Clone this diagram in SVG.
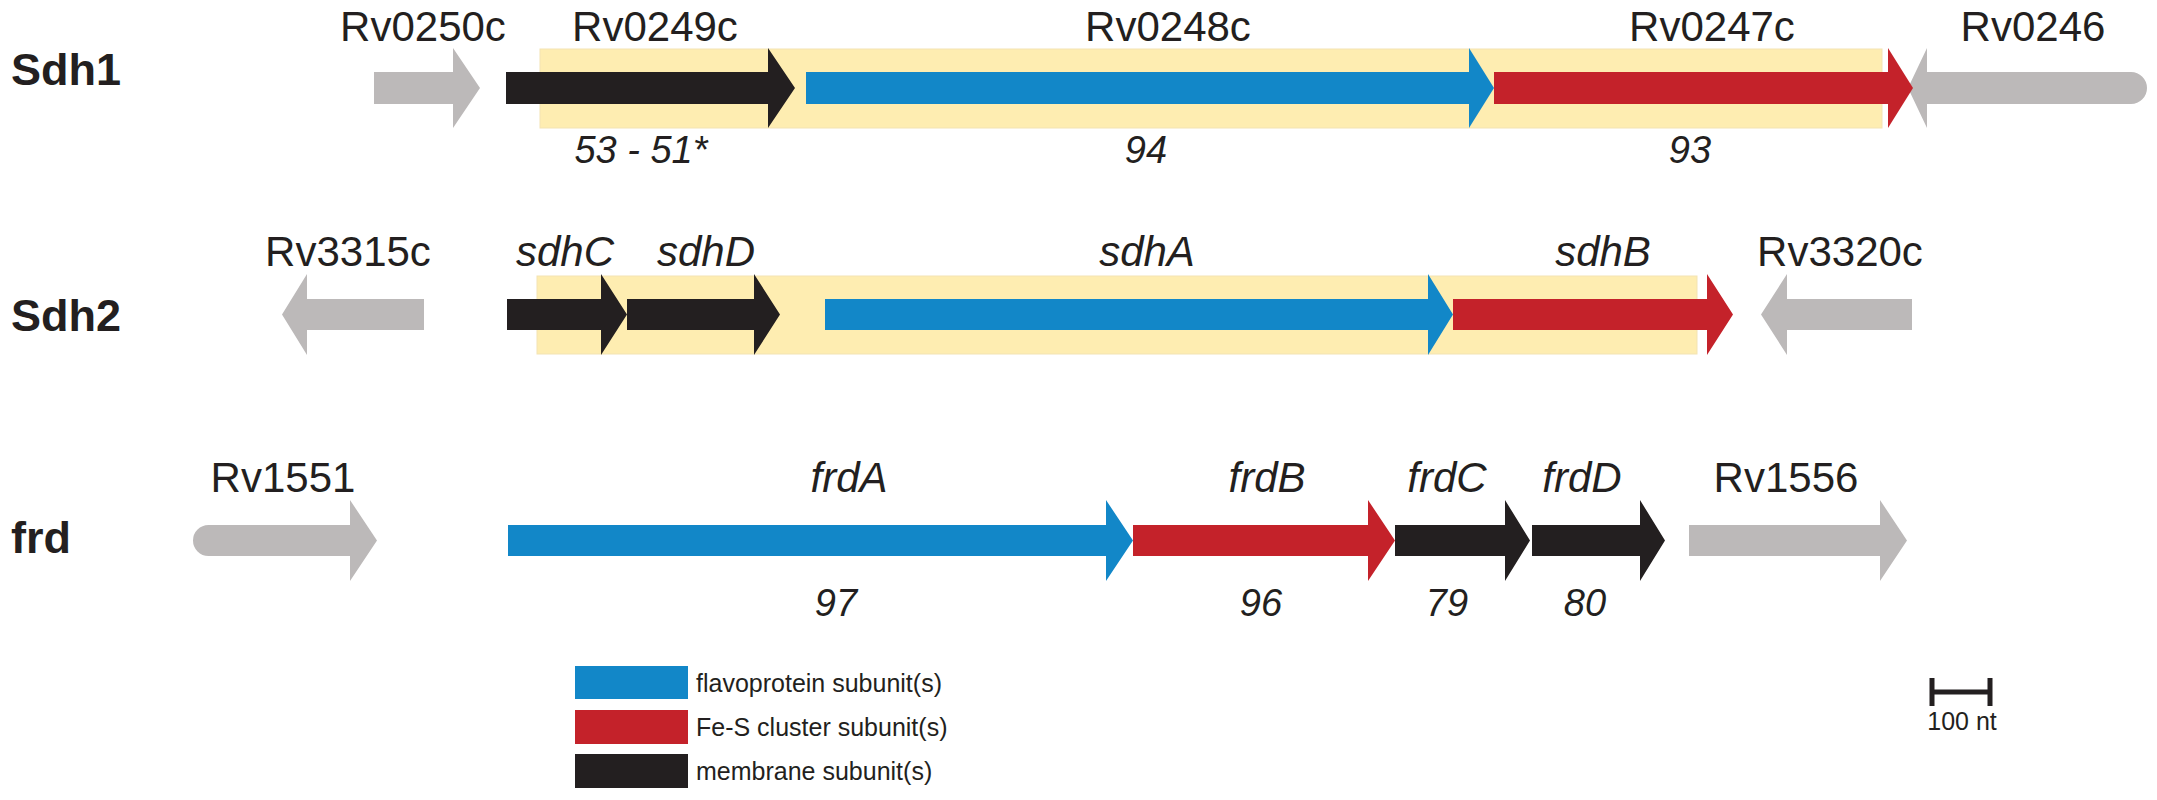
<svg xmlns="http://www.w3.org/2000/svg" width="2157" height="800" viewBox="0 0 2157 800">
<style>
.gray{fill:#bcb9b9}
.black{fill:#231f20}
.blue{fill:#1287c8}
.red{fill:#c4222a}
.yel{fill:#feedb1;stroke:#f3e3b3;stroke-width:1}
text{font-family:'Liberation Sans',Arial,Helvetica,sans-serif;fill:#231f20}
.lbl{font-size:42px;text-anchor:middle}
.it{font-style:italic}
.num{font-size:38px;font-style:italic;text-anchor:middle}
.row{font-size:45px;font-weight:bold}
.leg{font-size:25px}
</style>
<rect width="2157" height="800" fill="#ffffff"/>

<g id="row-labels">
<text class="row" x="11" y="85">Sdh1</text>
<text class="row" x="11" y="331">Sdh2</text>
<text class="row" x="11" y="553">frd</text>
</g>

<g id="operon-boxes">
<rect class="yel" x="540" y="49" width="1342" height="79"/>
<rect class="yel" x="537" y="276" width="1160" height="78"/>
</g>

<g id="Rv0250c"><path class="gray" d="M374,72 H453 V48 L480,88 L453,128 V104 H374 Z"/><text class="lbl" x="423" y="41">Rv0250c</text></g>
<g id="Rv0246"><path class="gray" d="M1908,88 L1927,48 V72 H2131 A16,16 0 0 1 2131,104 H1927 V128 Z"/><text class="lbl" x="2033" y="41">Rv0246</text></g>
<g id="Rv0249c"><path class="black" d="M506,72 H768 V48 L795,88 L768,128 V104 H506 Z"/><text class="lbl" x="655" y="41">Rv0249c</text><text class="num" x="641" y="163">53 - 51*</text></g>
<g id="Rv0248c"><path class="blue" d="M806,72 H1469 V48 L1494,88 L1469,128 V104 H806 Z"/><text class="lbl" x="1168" y="41">Rv0248c</text><text class="num" x="1146" y="163">94</text></g>
<g id="Rv0247c"><path class="red" d="M1494,72 H1888 V48 L1913,88 L1888,128 V104 H1494 Z"/><text class="lbl" x="1712" y="41">Rv0247c</text><text class="num" x="1690" y="163">93</text></g>

<g id="Rv3315c"><path class="gray" d="M424,299 H307 V274 L282,314.5 L307,355 V330 H424 Z"/><text class="lbl" x="348" y="266">Rv3315c</text></g>
<g id="sdhC"><path class="black" d="M507,299 H601 V274 L627,314.5 L601,355 V330 H507 Z"/><text class="lbl it" x="565" y="266">sdhC</text></g>
<g id="sdhD"><path class="black" d="M627,299 H754 V274 L780,314.5 L754,355 V330 H627 Z"/><text class="lbl it" x="706" y="266">sdhD</text></g>
<g id="sdhA"><path class="blue" d="M825,299 H1428 V274 L1453,314.5 L1428,355 V330 H825 Z"/><text class="lbl it" x="1147" y="266">sdhA</text></g>
<g id="sdhB"><path class="red" d="M1453,299 H1707 V274 L1733,314.5 L1707,355 V330 H1453 Z"/><text class="lbl it" x="1603" y="266">sdhB</text></g>
<g id="Rv3320c"><path class="gray" d="M1912,299 H1787 V274 L1761,314.5 L1787,355 V330 H1912 Z"/><text class="lbl" x="1840" y="266">Rv3320c</text></g>

<g id="Rv1551"><path class="gray" d="M208.5,525 H350 V500 L377,540.5 L350,581 V556 H208.5 A15.5,15.5 0 0 1 208.5,525 Z"/><text class="lbl" x="283" y="492">Rv1551</text></g>
<g id="frdA"><path class="blue" d="M508,525 H1106 V500 L1133,540.5 L1106,581 V556 H508 Z"/><text class="lbl it" x="849" y="492">frdA</text><text class="num" x="836" y="616">97</text></g>
<g id="frdB"><path class="red" d="M1133,525 H1368 V500 L1395,540.5 L1368,581 V556 H1133 Z"/><text class="lbl it" x="1267" y="492">frdB</text><text class="num" x="1261" y="616">96</text></g>
<g id="frdC"><path class="black" d="M1395,525 H1505 V500 L1530,540.5 L1505,581 V556 H1395 Z"/><text class="lbl it" x="1447" y="492">frdC</text><text class="num" x="1447" y="616">79</text></g>
<g id="frdD"><path class="black" d="M1532,525 H1640 V500 L1665,540.5 L1640,581 V556 H1532 Z"/><text class="lbl it" x="1582" y="492">frdD</text><text class="num" x="1585" y="616">80</text></g>
<g id="Rv1556"><path class="gray" d="M1689,525 H1880 V500 L1907,540.5 L1880,581 V556 H1689 Z"/><text class="lbl" x="1786" y="492">Rv1556</text></g>

<g id="legend">
<rect class="blue" x="575" y="666" width="113" height="33"/>
<rect class="red" x="575" y="710" width="113" height="34"/>
<rect class="black" x="575" y="754" width="113" height="34"/>
<text class="leg" x="696" y="692">flavoprotein subunit(s)</text>
<text class="leg" x="696" y="736">Fe-S cluster subunit(s)</text>
<text class="leg" x="696" y="780">membrane subunit(s)</text>
</g>

<g id="scale-bar">
<path d="M1930,692 H1992 M1932,678 V706 M1990,678 V706" stroke="#231f20" stroke-width="5" fill="none"/>
<text class="leg" x="1962" y="730" text-anchor="middle">100 nt</text>
</g>
<g id="connectors"></g>
</svg>
